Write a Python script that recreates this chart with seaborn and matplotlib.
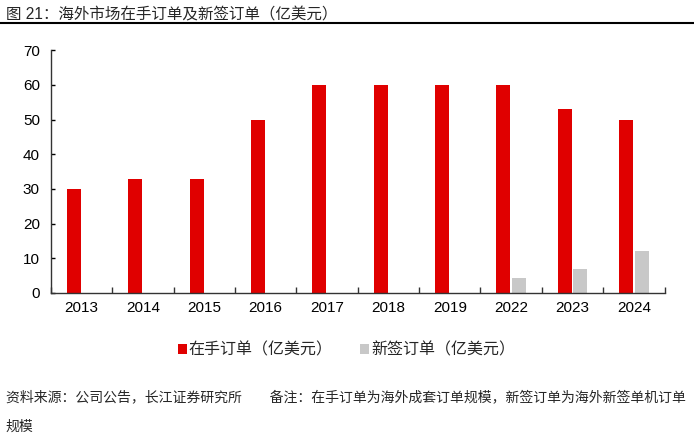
import pandas as pd
import matplotlib.pyplot as plt
import seaborn as sns
import numpy as np

years = ["2013","2014","2015","2016","2017","2018","2019","2022","2023","2024"]
backlog = [30, 33, 33, 50, 60, 60, 60, 60, 53, 50]
new_orders = [0, 0, 0, 0, 0, 0, 0, 4.2, 6.9, 12.1]

name_backlog = "在手订单（亿美元）"
name_new = "新签订单（亿美元）"

rows = []
for i in range(len(years)):
    rows.append({"Year" : years[i], "Series" : name_backlog, "Value" : backlog[i]})
    rows.append({"Year" : years[i], "Series" : name_new, "Value" : new_orders[i]})
df = pd.DataFrame.from_dict(rows)

sns.set_style("white")
plt.rcParams['font.family'] = ['Liberation Sans', 'Noto Sans CJK SC']

fig = plt.figure(figsize=(6.94,4.36), dpi=100)
ax = fig.add_axes([0.0735, 0.328, 0.884, 0.557])

sns.barplot(x='Year', y='Value', hue='Series', data=df, order=years,
            hue_order=[name_backlog, name_new],
            palette=["#E00000", "#C8C8C8"], saturation=1, width=0.51, gap=0.1,
            linewidth=0, ax=ax)

ax.set_xlim(-0.5, len(years)-0.5)
ax.set_ylim(0, 70)
ax.set_yticks(range(0, 71, 10))
ax.set_xlabel('')
ax.set_ylabel('')

# ticks between categories, labels at the centers
ax.set_xticks(np.arange(-0.5, len(years), 1.0))
ax.set_xticklabels([])
ax.set_xticks(range(len(years)), minor=True)
ax.set_xticklabels(years, minor=True)
ax.tick_params(axis='x', which='major', direction='in', length=4, width=1, color='#333333', bottom=True)
ax.tick_params(axis='x', which='minor', length=0, labelsize=11, pad=6, colors='black')
ax.tick_params(axis='y', direction='in', length=3, width=1, left=True, labelsize=11, pad=8, colors='black')

for s in ['top','right']:
    ax.spines[s].set_visible(False)
for s in ['left','bottom']:
    ax.spines[s].set_color('#333333')
    ax.spines[s].set_linewidth(1)

handles, labels = ax.get_legend_handles_labels()
ax.get_legend().remove()
fig.legend(handles, labels, loc='center', bbox_to_anchor=(0.499, 0.198), ncol=2, frameon=False,
           fontsize=11.5, handlelength=0.6, handleheight=0.6, handletextpad=0.1, columnspacing=1.7)

fig.text(0.008, 0.966, "图 21：海外市场在手订单及新签订单（亿美元）", fontsize=11.2, va='center', ha='left')
fig.add_artist(plt.Line2D([0.0, 1.0], [0.948, 0.948], color='black', linewidth=1.5, transform=fig.transFigure))

fig.text(0.008, 0.09, "资料来源：公司公告，长江证券研究所　　备注：在手订单为海外成套订单规模，新签订单为海外新签单机订单",
         fontsize=10, va='center', ha='left')
fig.text(0.008, 0.021, "规模", fontsize=10, va='center', ha='left')

plt.savefig('out.png', dpi=100)
